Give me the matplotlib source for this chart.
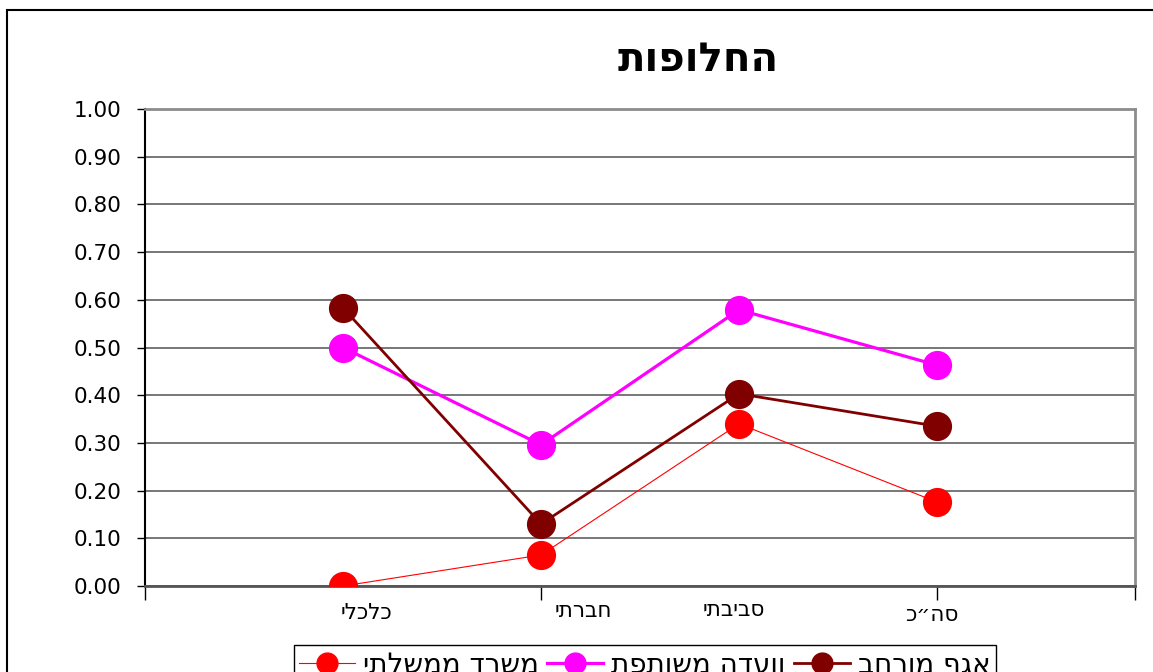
import matplotlib
matplotlib.use('Agg')
import matplotlib.pyplot as plt
from matplotlib.transforms import offset_copy
from matplotlib.patches import Rectangle
from matplotlib.ticker import FormatStrFormatter

plt.rcParams['font.family'] = ['DejaVu Sans']

# ---- data ----
title = 'החלופות'
categories = ['כלכלי', 'חברתי', 'סביבתי', 'סה״כ']
series_names = ['משרד ממשלתי', 'וועדה משותפת', 'אגף מורחב']
misrad = [0.00, 0.065, 0.34, 0.176]
vaada = [0.50, 0.296, 0.579, 0.463]
agaf = [0.583, 0.13, 0.403, 0.335]
y_ticks = [0.0, 0.1, 0.2, 0.3, 0.4, 0.5, 0.6, 0.7, 0.8, 0.9, 1.0]


def rtl(s):
    return s[::-1]


W, H = 1153, 672
fig = plt.figure(figsize=(W / 100, H / 100), dpi=100)
ax = fig.add_axes([145 / W, 1 - 586 / H, 990 / W, 477 / H])

xpos = list(range(1, len(categories) + 1))
colors = ['#FF0000', '#FF00FF', '#800000']
widths = [0.8, 2.3, 2.0]
for vals, name, c, lw in zip([misrad, vaada, agaf], series_names, colors, widths):
    ax.plot(xpos, vals, color=c, lw=lw, marker='o', ms=20, mfc=c, mec=c,
            label=rtl(name), zorder=3)

ax.set_xlim(0, len(categories) + 1)
ax.set_ylim(0, 1)
ax.set_yticks(y_ticks)
ax.yaxis.set_major_formatter(FormatStrFormatter('%.2f'))
ax.grid(axis='y', color='#606060', lw=1.2)
ax.set_axisbelow(True)
ax.set_xticks([0, 2, 4, 5])
ax.set_xticklabels([])
ax.tick_params(axis='x', length=10, width=1, color='black', direction='out')
ax.tick_params(axis='y', length=6, width=1, labelsize=15.5, pad=11, color='black')

ax.spines['left'].set_color('black')
ax.spines['left'].set_linewidth(1.5)
ax.spines['bottom'].set_color('#555555')
ax.spines['bottom'].set_linewidth(2)
for s in ['top', 'right']:
    ax.spines[s].set_color('#8c8c8c')
    ax.spines[s].set_linewidth(2)

# category labels (slightly offset as in the original)
dx_px = [23, 42, -5, -5]
dy_px = [-27, -25, -24, -29]
base = ax.get_xaxis_transform()
for xp, lab, dx, dy in zip(xpos, categories, dx_px, dy_px):
    tr = offset_copy(base, fig=fig, x=dx, y=dy, units='dots')
    ax.text(xp, 0, rtl(lab), transform=tr, ha='center', va='center', fontsize=15.5)

fig.text(698 / W, 1 - 60 / H, rtl(title), ha='center', va='center',
         fontsize=29, fontweight='bold')

leg = fig.legend(loc='upper center', bbox_to_anchor=(645 / W, 1 - 645 / H), ncol=3,
                 fontsize=20, frameon=True, fancybox=False, edgecolor='black',
                 framealpha=1, markerscale=0.75, handlelength=2.0,
                 columnspacing=0.3, handletextpad=0.3, borderpad=0.2,
                 borderaxespad=0)
leg.get_frame().set_linewidth(1)

fig.add_artist(Rectangle((7 / W, -0.1), 1.2, 1 - 10 / H + 0.1,
                         transform=fig.transFigure, fill=False,
                         ec='black', lw=1.5))

fig.savefig('out.png', dpi=100)
